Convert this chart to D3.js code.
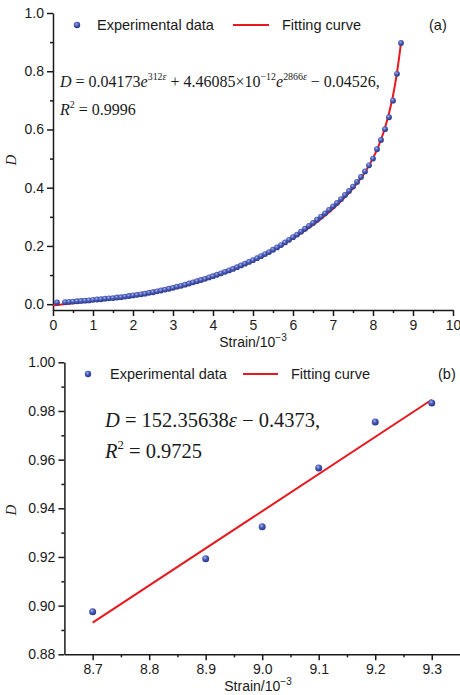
<!DOCTYPE html>
<html><head><meta charset="utf-8">
<script src="https://cdn.jsdelivr.net/npm/d3@7/dist/d3.min.js"></script>
<style>
html,body{margin:0;padding:0;background:#fff;}
svg{display:block;}
.axis path,.axis line{stroke:#1a1a1a;stroke-width:1.5;}
.axis text{font-family:"Liberation Sans",Arial,sans-serif;font-size:14px;fill:#1a1a1a;}
</style></head>
<body>
<script>
// ---------- Panel (a) data ----------
const strainA = [0.1,0.3,0.4,0.5,0.6,0.7,0.8,0.9,1.0,1.1,1.2,1.3,1.4,1.5,1.6,1.7,1.8,1.9,2.0,
 2.1,2.2,2.3,2.4,2.5,2.6,2.7,2.8,2.9,3.0,3.1,3.2,3.3,3.4,3.5,3.6,3.7,3.8,3.9,4.0,
 4.1,4.2,4.3,4.4,4.5,4.6,4.7,4.8,4.9,5.0,5.1,5.2,5.3,5.4,5.5,5.6,5.7,5.8,5.9,6.0,
 6.1,6.2,6.3,6.4,6.5,6.6,6.7,6.8,6.9,7.0,7.1,7.2,7.3,7.4,7.5,7.6,7.7,7.8,7.9,8.0,
 8.1,8.2,8.3,8.4,8.5,8.6,8.7];
const damageA = [0.006,0.007,0.008,0.009,0.010,0.011,0.012,0.013,0.015,0.016,0.017,0.019,0.020,0.021,0.023,0.024,0.026,0.028,0.030,
 0.032,0.034,0.036,0.039,0.041,0.044,0.047,0.050,0.053,0.056,0.060,0.063,0.067,0.071,0.075,0.079,0.083,0.087,0.092,0.096,
 0.101,0.106,0.111,0.116,0.121,0.127,0.133,0.139,0.145,0.151,0.158,0.165,0.172,0.179,0.187,0.195,0.203,0.212,0.221,0.230,
 0.239,0.249,0.259,0.269,0.279,0.290,0.301,0.312,0.324,0.336,0.348,0.361,0.375,0.389,0.404,0.420,0.437,0.456,0.477,0.500,
 0.532,0.564,0.601,0.642,0.699,0.791,0.897];
// fitting curve (a)
const fitStrainA = [0,0.5,1,1.5,2,2.5,3,3.5,4,4.5,5,5.5,6,6.5,7,7.5,7.8,8.0,8.1,8.2,8.3,8.4,8.5,8.6,8.7];
const fitDamageA = [-0.004,0.0035,0.012,0.021,0.033,0.046,0.061,0.079,0.100,0.125,0.153,0.187,0.226,0.272,0.328,0.398,0.453,0.5015,0.531,0.565,0.606,0.656,0.716,0.795,0.897];
const xTicksA = [0,1,2,3,4,5,6,7,8,9,10];
const yTicksA = [0.0,0.2,0.4,0.6,0.8,1.0];

// ---------- Panel (b) data ----------
const strainB = [8.7,8.9,9.0,9.1,9.2,9.3];
const damageB = [0.8975,0.9193,0.9324,0.9566,0.9755,0.9833];
const fitStrainB = [8.7,9.3];
const fitDamageB = [0.893,0.9846];
const xTicksB = [8.7,8.8,8.9,9.0,9.1,9.2,9.3];
const yTicksB = [0.88,0.90,0.92,0.94,0.96,0.98,1.00];

const legendLabels = ["Experimental data","Fitting curve"];

const W=460,H=695;
const svg = d3.select("body").append("svg").attr("width",W).attr("height",H);
const defs = svg.append("defs");
const grad = defs.append("radialGradient").attr("id","ball").attr("cx","40%").attr("cy","35%").attr("r","65%");
grad.append("stop").attr("offset","0%").attr("stop-color","#aab6ec");
grad.append("stop").attr("offset","45%").attr("stop-color","#4a5cb8");
grad.append("stop").attr("offset","100%").attr("stop-color","#2a3788");

const SANS='"Liberation Sans",Arial,sans-serif';
const SERIF='"Liberation Serif","Times New Roman",serif';
const RED="#e8181e";

function fmt1(d){return d3.format(".1f")(d);}
function fmt2(d){return d3.format(".2f")(d);}

function drawPanel(o){
  const g = svg.append("g");
  const x=o.x, y=o.y;
  g.append("g").attr("class","axis").attr("transform",`translate(0,${y.range()[0]})`)
    .call(d3.axisBottom(x).tickValues(o.xMinor).tickSize(3).tickSizeOuter(0).tickFormat(""))
    .select(".domain").remove();
  g.append("g").attr("class","axis").attr("transform",`translate(${x.range()[0]},0)`)
    .call(d3.axisLeft(y).tickValues(o.yMinor).tickSize(3).tickSizeOuter(0).tickFormat(""))
    .select(".domain").remove();
  g.append("g").attr("class","axis").attr("transform",`translate(0,${y.range()[0]})`)
    .call(d3.axisBottom(x).tickValues(o.xTicks).tickSize(6).tickSizeOuter(0).tickPadding(4).tickFormat(o.xFmt));
  g.append("g").attr("class","axis").attr("transform",`translate(${x.range()[0]},0)`)
    .call(d3.axisLeft(y).tickValues(o.yTicks).tickSize(6).tickSizeOuter(0).tickPadding(3).tickFormat(o.yFmt));
  const t = g.append("text").attr("x",o.xTitle[0]).attr("y",o.xTitle[1]).attr("text-anchor","middle")
    .style("font-family",SANS).style("font-size","14px").attr("fill","#1a1a1a");
  t.append("tspan").text("Strain/10");
  t.append("tspan").attr("dy",-6).style("font-size","10px").text("\u22123");
  g.append("text").attr("transform",`translate(${o.yTitle[0]},${o.yTitle[1]}) rotate(-90)`)
    .attr("text-anchor","middle").style("font-family",SERIF).style("font-style","italic")
    .style("font-size","15px").attr("fill","#1a1a1a").text("D");
  const line = d3.line().x(d=>x(d[0])).y(d=>y(d[1])).curve(d3.curveMonotoneX);
  g.append("path").datum(o.fitS.map((s,i)=>[s,o.fitD[i]])).attr("d",line)
    .attr("fill","none").attr("stroke",RED).attr("stroke-width",o.lw);
  g.append("g").selectAll("circle").data(o.s.map((s,i)=>[s,o.d[i]])).join("circle")
    .attr("cx",d=>x(d[0])).attr("cy",d=>y(d[1])).attr("r",o.r).attr("fill","url(#ball)");
  const L=o.legend;
  g.append("circle").attr("cx",L.dot).attr("cy",L.y).attr("r",3.2).attr("fill","url(#ball)");
  g.append("text").attr("x",L.t1).attr("y",L.y+5).style("font-family",SANS).style("font-size","14.5px").attr("fill","#1a1a1a").text(legendLabels[0]);
  g.append("line").attr("x1",L.l1).attr("x2",L.l2).attr("y1",L.y).attr("y2",L.y).attr("stroke",RED).attr("stroke-width",2);
  g.append("text").attr("x",L.t2).attr("y",L.y+5).style("font-family",SANS).style("font-size","14.5px").attr("fill","#1a1a1a").text(legendLabels[1]);
  g.append("text").attr("x",L.tag).attr("y",L.y+5).style("font-family",SANS).style("font-size","14.5px").attr("fill","#1a1a1a").text(o.tag);
  return g;
}

const xA=d3.scaleLinear([0,10],[53,453]);
const yA=d3.scaleLinear([-0.02,1.0],[310,13]);
const gA = drawPanel({x:xA,y:yA,xTicks:xTicksA,yTicks:yTicksA,
  xMinor:d3.range(0.5,10,1),yMinor:[0.1,0.3,0.5,0.7,0.9],
  xFmt:d=>d3.format("d")(d),yFmt:fmt1,xTitle:[253,347],yTitle:[16,160],
  s:strainA,d:damageA,fitS:fitStrainA,fitD:fitDamageA,r:2.9,lw:2,
  legend:{y:25,dot:77,t1:97,l1:233,l2:269,t2:282,tag:429},tag:"(a)"});

const xB=d3.scaleLinear([8.65,9.35],[64.4,460]);
const yB=d3.scaleLinear([0.88,1.00],[654.3,362.3]);
const gB = drawPanel({x:xB,y:yB,xTicks:xTicksB,yTicks:yTicksB,
  xMinor:[8.75,8.85,8.95,9.05,9.15,9.25],yMinor:[0.89,0.91,0.93,0.95,0.97,0.99],
  xFmt:fmt1,yFmt:fmt2,xTitle:[258,691],yTitle:[16,510],
  s:strainB,d:damageB,fitS:fitStrainB,fitD:fitDamageB,r:3.5,lw:2,
  legend:{y:374,dot:88,t1:110,l1:243,l2:278,t2:291,tag:438},tag:"(b)"});

function eqText(g,x,y,fs,parts){
  const t=g.append("text").attr("x",x).attr("y",y).style("font-family",SERIF).style("font-size",fs+"px").attr("fill","#1a1a1a");
  parts.forEach(p=>{
    const ts=t.append("tspan").text(p.t);
    if(p.i) ts.style("font-style","italic");
    if(p.sup){ts.style("font-size",(fs*0.62)+"px").attr("dy",-fs*0.42);}
    if(p.small){ts.style("font-size",(fs*0.62)+"px");}
    if(p.down){ts.attr("dy",fs*0.42);}
  });
}
eqText(gA,60,87,16,[{t:"D",i:1},{t:" = 0.04173"},{t:"e",i:1},{t:"312",sup:1},{t:"\u03b5",small:1,i:1},
  {t:" + 4.46085\u00d710",down:1},{t:"\u221212",sup:1},{t:"e",i:1,down:1},{t:"2866",sup:1},{t:"\u03b5",small:1,i:1},{t:" \u2212 0.04526,",down:1}]);
eqText(gA,60,115,16,[{t:"R",i:1},{t:"2",sup:1},{t:" = 0.9996",down:1}]);
eqText(gB,105,427,20.5,[{t:"D",i:1},{t:" = 152.35638"},{t:"\u03b5",i:1},{t:" \u2212 0.4373,"}]);
eqText(gB,105,458,20.5,[{t:"R",i:1},{t:"2",sup:1},{t:" = 0.9725",down:1}]);
</script>
</body></html>
